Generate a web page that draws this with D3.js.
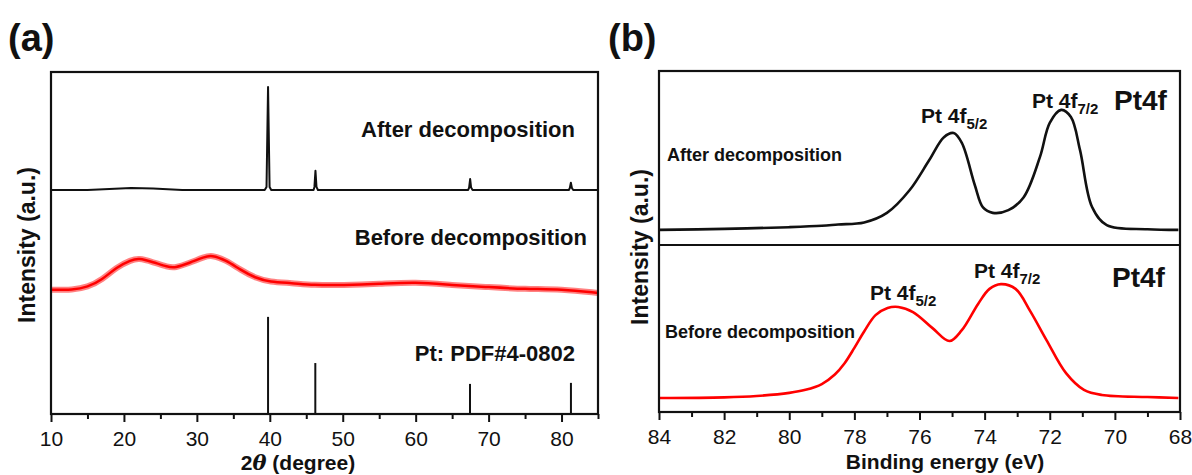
<!DOCTYPE html>
<html>
<head>
<meta charset="utf-8">
<script src="https://cdn.jsdelivr.net/npm/d3@7"></script>
<style>
  body { margin: 0; background: #fff; }
  svg { display: block; font-family: "Liberation Sans", Arial, sans-serif; }
  .tick text { font-size: 21px; fill: #111; }
  .bold { font-weight: bold; fill: #111; }
</style>
</head>
<body>
<svg id="chart" width="1192" height="475"></svg>
<script>
// ---- data ----
// (a) XRD, 2theta (deg) vs intensity (a.u., stacked)
const xrdAfter = [
  [10, 65.5], [15, 65.5], [18, 65.8], [21, 66.1], [24, 65.9], [28, 65.5],
  [39.3, 65.5], [39.55, 66.4], [39.76, 95.6], [39.97, 66.4], [40.2, 65.5],
  [46.0, 65.5], [46.12, 66.4], [46.26, 71.1], [46.4, 66.4], [46.6, 65.5],
  [67.2, 65.5], [67.33, 66.2], [67.47, 68.7], [67.6, 66.2], [67.8, 65.5],
  [81.0, 65.5], [81.14, 66.1], [81.28, 67.6], [81.42, 66.1], [81.6, 65.5],
  [85, 65.5]
];
const xrdBefore = [
  [10, 36.3], [13, 36.3], [15, 37.1], [17, 39.2], [19, 43.0], [21, 45.0],
  [22, 45.6], [24, 44.4], [26, 43.0], [27, 42.7], [29, 44.2], [31, 45.9],
  [32, 46.5], [34, 45.0], [36, 42.1], [38, 39.8], [40, 38.6], [43, 38.3],
  [46, 37.7], [50, 37.7], [55, 38.0], [60, 38.6], [65, 37.7], [70, 37.1],
  [75, 36.5], [80, 36.5], [85, 35.4]
];
const pdfLines = [[39.76, 28.4], [46.24, 14.9], [67.45, 8.8], [81.29, 9.1]];
const xrdTicks = [10, 20, 30, 40, 50, 60, 70, 80];
const xrdMinor = [15, 25, 35, 45, 55, 65, 75, 85];

// (b) XPS Pt4f, binding energy (eV) vs intensity (a.u., stacked)
const xpsAfter = [
  [84, 53.4], [82, 53.7], [80, 54.2], [79, 54.6], [78.5, 55.0], [77.7, 55.6],
  [77.0, 58.4], [76.3, 65.1], [75.7, 73.9], [75.25, 80.6], [74.95, 81.8],
  [74.7, 78.9], [74.3, 66.5], [74.05, 60.0], [73.75, 58.4], [73.27, 59.2],
  [72.8, 63.0], [72.3, 74.8], [72.0, 84.8], [71.65, 88.6], [71.35, 86.5],
  [71.07, 76.8], [70.7, 60.1], [70.25, 54.8], [69, 53.6], [68.05, 53.4]
];
const xpsBefore = [
  [84, 4.1], [82, 4.3], [81, 4.7], [80, 5.6], [79.5, 6.5], [79.0, 8.2],
  [78.6, 11.0], [78.3, 14.3], [78.0, 18.8], [77.7, 23.6], [77.35, 28.4],
  [76.98, 30.5], [76.65, 30.8], [76.2, 29.3], [75.6, 24.6], [75.08, 20.8],
  [74.7, 24.0], [74.2, 31.7], [73.85, 36.1], [73.5, 37.5], [73.05, 36.1],
  [72.6, 29.6], [72.1, 21.1], [71.5, 11.4], [70.95, 6.5], [70.4, 5.0],
  [69, 4.4], [68.05, 4.1]
];
const xpsTicks = [84, 82, 80, 78, 76, 74, 72, 70, 68];
const xpsMinor = [83, 81, 79, 77, 75, 73, 71, 69];

const svg = d3.select('#chart');

function drawFrame(g, x, y) {
    const [x0, x1] = x.range();
    const [y0, y1] = y.range();
    g.append('rect')
        .attr('x', Math.min(x0, x1)).attr('y', y1)
        .attr('width', Math.abs(x1 - x0)).attr('height', y0 - y1)
        .attr('fill', 'none').attr('stroke', '#111').attr('stroke-width', 2.2);
}

function drawAxis(g, x, y, ticks, minor) {
    const base = y.range()[0];
    const major = g.append('g')
        .attr('transform', `translate(0,${base})`)
        .call(d3.axisBottom(x).tickValues(ticks).tickSize(8).tickSizeOuter(0).tickPadding(9));
    major.select('.domain').remove();
    major.selectAll('.tick line').attr('stroke', '#111').attr('stroke-width', 2);
    const small = g.append('g')
        .attr('transform', `translate(0,${base})`)
        .call(d3.axisBottom(x).tickValues(minor).tickSize(5).tickFormat(''));
    small.select('.domain').remove();
    small.selectAll('.tick line').attr('stroke', '#111').attr('stroke-width', 2);
}

// ---------- (a) XRD ----------
const xA = d3.scaleLinear().domain([10, 85]).range([51, 598]);
const yA = d3.scaleLinear().domain([0, 100]).range([414, 72]);
const gA = svg.append('g');

const lineA = d3.line().x(d => xA(d[0])).y(d => yA(d[1]));

// noisy amorphous trace: drawn as a thin band plus a centre line
gA.append('path').datum(xrdBefore)
    .attr('d', lineA.curve(d3.curveBasis))
    .attr('fill', 'none').attr('stroke', '#ff1a1a').attr('stroke-width', 6).attr('stroke-opacity', 0.55);
gA.append('path').datum(xrdBefore)
    .attr('d', lineA.curve(d3.curveBasis))
    .attr('fill', 'none').attr('stroke', '#ff0000').attr('stroke-width', 2.5);

gA.append('path').datum(xrdAfter)
    .attr('d', lineA.curve(d3.curveLinear))
    .attr('fill', 'none').attr('stroke', '#111').attr('stroke-width', 2).attr('stroke-linejoin', 'round');

gA.selectAll('line.pdf').data(pdfLines).join('line')
    .attr('class', 'pdf')
    .attr('x1', d => xA(d[0])).attr('x2', d => xA(d[0]))
    .attr('y1', yA(0)).attr('y2', d => yA(d[1]))
    .attr('stroke', '#111').attr('stroke-width', 2);

drawFrame(gA, xA, yA);
drawAxis(gA, xA, yA, xrdTicks, xrdMinor);

gA.append('text').attr('class', 'bold').attr('x', 575).attr('y', 137)
    .attr('text-anchor', 'end').style('font-size', '22px').text('After decomposition');
gA.append('text').attr('class', 'bold').attr('x', 587).attr('y', 245)
    .attr('text-anchor', 'end').style('font-size', '22px').text('Before decomposition');
gA.append('text').attr('class', 'bold').attr('x', 575).attr('y', 361)
    .attr('text-anchor', 'end').style('font-size', '22px').text('Pt: PDF#4-0802');

gA.append('text').attr('class', 'bold').attr('x', 8).attr('y', 51)
    .style('font-size', '38px').text('(a)');

gA.append('text').attr('class', 'bold')
    .attr('transform', 'translate(35,245) rotate(-90)')
    .attr('text-anchor', 'middle').style('font-size', '23px').text('Intensity (a.u.)');

const titleA = gA.append('text').attr('class', 'bold').attr('x', 298).attr('y', 470)
    .attr('text-anchor', 'middle').style('font-size', '21px');
titleA.append('tspan').text('2');
titleA.append('tspan').attr('font-style', 'italic').attr('font-family', 'DejaVu Serif').text('\u03b8');
titleA.append('tspan').text(' (degree)');

// ---------- (b) XPS ----------
const xB = d3.scaleLinear().domain([84, 68]).range([659, 1180]);
const yB = d3.scaleLinear().domain([0, 100]).range([412, 71]);
const gB = svg.append('g');

const lineB = d3.line().x(d => xB(d[0])).y(d => yB(d[1])).curve(d3.curveCatmullRom.alpha(0.5));

gB.append('path').datum(xpsAfter).attr('d', lineB)
    .attr('fill', 'none').attr('stroke', '#111').attr('stroke-width', 2.6);
gB.append('path').datum(xpsBefore).attr('d', lineB)
    .attr('fill', 'none').attr('stroke', '#ff0000').attr('stroke-width', 2.6);

drawFrame(gB, xB, yB);
// divider between the two stacked spectra
gB.append('line')
    .attr('x1', xB.range()[0]).attr('x2', xB.range()[1])
    .attr('y1', 245).attr('y2', 245)
    .attr('stroke', '#111').attr('stroke-width', 2.2);
drawAxis(gB, xB, yB, xpsTicks, xpsMinor);

function peakLabel(g, x, y, sub) {
    const t = g.append('text').attr('class', 'bold').attr('x', x).attr('y', y)
        .style('font-size', '21px');
    t.append('tspan').text('Pt 4f');
    t.append('tspan').attr('dy', 6).style('font-size', '15px').text(sub);
}

peakLabel(gB, 921, 123, '5/2');
peakLabel(gB, 1032, 108, '7/2');
peakLabel(gB, 870, 300, '5/2');
peakLabel(gB, 974, 278, '7/2');

gB.append('text').attr('class', 'bold').attr('x', 1114).attr('y', 110)
    .style('font-size', '28px').text('Pt4f');
gB.append('text').attr('class', 'bold').attr('x', 1112).attr('y', 287)
    .style('font-size', '28px').text('Pt4f');

gB.append('text').attr('class', 'bold').attr('x', 667).attr('y', 161)
    .style('font-size', '18px').text('After decomposition');
gB.append('text').attr('class', 'bold').attr('x', 665).attr('y', 338)
    .style('font-size', '18px').text('Before decomposition');

gB.append('text').attr('class', 'bold').attr('x', 608).attr('y', 51)
    .style('font-size', '38px').text('(b)');

gB.append('text').attr('class', 'bold')
    .attr('transform', 'translate(648,247) rotate(-90)')
    .attr('text-anchor', 'middle').style('font-size', '23px').text('Intensity (a.u.)');

gB.append('text').attr('class', 'bold').attr('x', 945).attr('y', 469)
    .attr('text-anchor', 'middle').style('font-size', '21px').text('Binding energy (eV)');
</script>
</body>
</html>
